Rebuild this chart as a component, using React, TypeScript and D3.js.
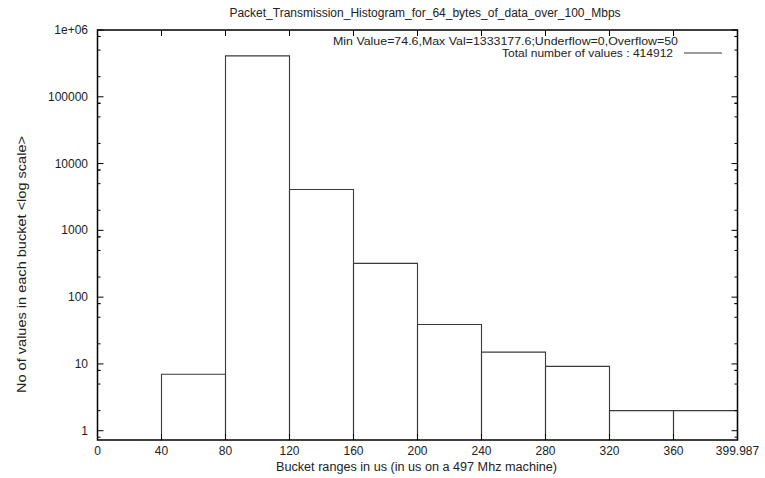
import React from "react";
import * as d3 from "d3";

const binStarts = [40, 80, 120, 160, 200, 240, 280, 320, 360];
const binEnds = [80, 120, 160, 200, 240, 280, 320, 360, 400];
const counts = [7, 410400, 4100, 320, 39, 15, 9.2, 2, 2];
const xTicks = [0, 40, 80, 120, 160, 200, 240, 280, 320, 360, 400];
const xTickLabels = ["0", "40", "80", "120", "160", "200", "240", "280", "320", "360", "399.987"];
const yTicks = [1, 10, 100, 1000, 10000, 100000, 1000000];
const yTickLabels = ["1", "10", "100", "1000", "10000", "100000", "1e+06"];
const yMinorMult = [0.8, 2, 5, 8];

const W = 765, H = 478;
const L = 97.5, R = 737.5, T = 30, B = 440;
const FONT = "'Liberation Sans', Arial, sans-serif";

export default function App() {
  const x = d3.scaleLinear().domain([0, 400]).range([L, R]);
  const y = d3.scaleLog().domain([0.726, 1e6]).range([B, T]);
  const minors: number[] = [];
  yTicks.forEach((t) => yMinorMult.forEach((m) => {
    const v = t * m;
    if (v > 0.726 && v < 1e6) minors.push(v);
  }));
  const txt = "#222";
  return (
    <svg width={W} height={H} style={{ position: "absolute", left: 0, top: 0, background: "#fff" }}>
      <rect width={W} height={H} fill="#fff" />
      {binStarts.map((s, i) => {
        const x0 = x(s), x1 = x(binEnds[i]), yt = y(counts[i]);
        const p = d3.path();
        p.moveTo(x0, B); p.lineTo(x0, yt); p.lineTo(x1, yt); p.lineTo(x1, B);
        return <path key={i} d={p.toString()} fill="none" stroke="#3a3a3a" strokeWidth={1.1} />;
      })}
      {yTicks.map((t, i) => (
        <g key={"y" + i}>
          <line x1={L} x2={L + 6} y1={y(t)} y2={y(t)} stroke="#000" />
          <line x1={R} x2={R - 6} y1={y(t)} y2={y(t)} stroke="#000" />
          <text x={88} y={y(t) + 4} textAnchor="end" fontFamily={FONT} fontSize={12} fill={txt}>{yTickLabels[i]}</text>
        </g>
      ))}
      {minors.map((v, i) => (
        <g key={"m" + i}>
          <line x1={L} x2={L + 3} y1={y(v)} y2={y(v)} stroke="#000" />
          <line x1={R} x2={R - 3} y1={y(v)} y2={y(v)} stroke="#000" />
        </g>
      ))}
      {xTicks.map((t, i) => (
        <g key={"x" + i}>
          <line x1={x(t)} x2={x(t)} y1={B} y2={B - 6} stroke="#000" />
          <line x1={x(t)} x2={x(t)} y1={T} y2={T + 6} stroke="#000" />
          <text x={x(t)} y={455} textAnchor="middle" fontFamily={FONT} fontSize={12} fill={txt}>{xTickLabels[i]}</text>
        </g>
      ))}
      <rect x={L} y={T} width={R - L} height={B - T} fill="none" stroke="#000" strokeWidth={1.5} />
      <text x={425} y={17} textAnchor="middle" fontFamily={FONT} fontSize={12} fill={txt}>Packet_Transmission_Histogram_for_64_bytes_of_data_over_100_Mbps</text>
      <text x={333} y={44.5} textLength={345} lengthAdjust="spacingAndGlyphs" fontFamily={FONT} fontSize={11.5} fill={txt}>Min Value=74.6,Max Val=1333177.6;Underflow=0,Overflow=50</text>
      <text x={502} y={57} textLength={171} lengthAdjust="spacingAndGlyphs" fontFamily={FONT} fontSize={11.5} fill={txt}>Total number of values : 414912</text>
      <line x1={684} x2={722} y1={53} y2={53} stroke="#3a3a3a" />
      <text x={276} y={471} textLength={281} lengthAdjust="spacingAndGlyphs" fontFamily={FONT} fontSize={12.5} fill={txt}>Bucket ranges in us (in us on a 497 Mhz machine)</text>
      <text transform="translate(26,393) rotate(-90)" textLength={257} lengthAdjust="spacingAndGlyphs" fontFamily={FONT} fontSize={12} fill={txt}>No of values in each bucket &lt;log scale&gt;</text>
    </svg>
  );
}
